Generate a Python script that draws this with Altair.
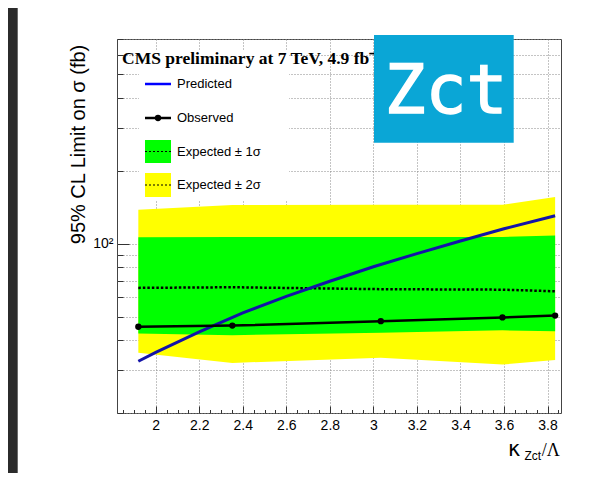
import altair as alt
import pandas as pd

# ---- data ----
MASS_X = [1.920, 2.352, 3.034, 3.593, 3.835]
OBSERVED = [45.4, 45.9, 47.9, 49.6, 50.5]
EXPECTED = [65.7, 66.1, 64.9, 64.6, 63.6]
SIG1_LO = [42.6, 41.9, 42.9, 43.9, 43.5]
SIG1_HI = [106.2, 106.6, 106.6, 106.6, 108.2]
SIG2_LO = [35.5, 32.2, 33.8, 31.7, 33.1]
SIG2_HI = [138.0, 144.5, 144.8, 144.8, 155.8]

PRED_X = [1.92, 2.0, 2.2, 2.4, 2.6, 2.8, 3.0, 3.2, 3.4, 3.6, 3.835]
PREDICTED = [32.7, 35.6, 43.2, 51.8, 60.6, 70.0, 80.3, 91.0, 102.6, 115.2, 130.5]

X_DOMAIN = [1.822, 3.862]
Y_DOMAIN = [20, 700]
X_MAJOR = [2.0, 2.2, 2.4, 2.6, 2.8, 3.0, 3.2, 3.4, 3.6, 3.8]
X_MINOR = [round(1.85 + 0.05 * i, 2) for i in range(41) if round((1.85 + 0.05 * i) * 100) % 20 != 0]
Y_MAJOR = [100]
Y_MINOR = [20, 30, 40, 50, 60, 70, 80, 90, 200, 300, 400, 500, 600, 700]
Y_GRID = [20, 30, 40, 50, 60, 70, 80, 90, 100, 200, 300, 400, 500, 600, 700]

Y_TITLE = "95% CL Limit on σ (fb)"
HEADER = "CMS preliminary at 7 TeV, 4.9 fb⁻¹"
LEGEND_LABELS = ["Predicted", "Observed", "Expected ± 1σ", "Expected ± 2σ"]
TAG = "Zct"

W, H = 444, 374
SANS = "Liberation Sans"
SERIF = "Liberation Serif"

band = pd.DataFrame({"k": MASS_X, "obs": OBSERVED, "exp": EXPECTED,
                     "s1lo": SIG1_LO, "s1hi": SIG1_HI,
                     "s2lo": SIG2_LO, "s2hi": SIG2_HI})
pred = pd.DataFrame({"k": PRED_X, "p": PREDICTED})

xs = alt.Scale(domain=X_DOMAIN, nice=False, zero=False)
ys = alt.Scale(type="log", domain=Y_DOMAIN, nice=False)

# axes
x_grid = alt.Axis(orient="bottom", values=X_MAJOR, grid=True, gridDash=[1, 2], gridColor="#888",
                  gridWidth=1, gridOpacity=1, ticks=False, labels=False, domain=False, title=None)
y_grid = alt.Axis(orient="left", values=Y_GRID, grid=True, gridDash=[1, 2], gridColor="#888",
                  gridWidth=1, gridOpacity=1, ticks=False, labels=False, domain=False, title=None)
x_lab = alt.Axis(orient="bottom", values=X_MAJOR, grid=False, ticks=False, domain=False,
                 labelExpr="format(datum.value, '.1~f')", labelFont=SANS, labelFontSize=14,
                 labelColor="#000", labelPadding=5, labelOverlap=False, labelFlush=False, title=None)
y_lab = alt.Axis(orient="left", values=Y_MAJOR, grid=False, ticks=False, domain=False,
                 labelExpr="'10²'", labelFont=SANS, labelFontSize=14, labelColor="#000",
                 labelPadding=4, title=Y_TITLE, titleFont=SANS, titleFontSize=20,
                 titleFontWeight="normal", titleColor="#000", titleAngle=270,
                 titleX=-33, titleY=105, titleAlign="center", titleBaseline="alphabetic")
x_maj = alt.Axis(orient="bottom", values=X_MAJOR, grid=False, labels=False, domain=False,
                 ticks=True, tickSize=7, offset=-7, tickColor="#333", tickWidth=1, title=None)
y_maj = alt.Axis(orient="left", values=Y_MAJOR, grid=False, labels=False, domain=False,
                 ticks=True, tickSize=12, offset=-12, tickColor="#333", tickWidth=1, title=None)
x_min = alt.Axis(orient="bottom", values=X_MINOR, grid=False, labels=False, domain=False,
                 ticks=True, tickSize=3.5, offset=-3.5, tickColor="#333", tickWidth=1, title=None)
y_min = alt.Axis(orient="left", values=Y_MINOR, grid=False, labels=False, domain=False,
                 ticks=True, tickSize=6, offset=-6, tickColor="#333", tickWidth=1, title=None)

base = alt.Chart(band)

yellow = base.mark_area(color="#ffff00", opacity=1).encode(
    x=alt.X("k:Q", scale=xs, axis=x_grid),
    y=alt.Y("s2lo:Q", scale=ys, axis=y_grid),
    y2="s2hi:Q")
green = base.mark_area(color="#00ff00", opacity=1).encode(
    x=alt.X("k:Q", scale=xs, axis=x_lab),
    y=alt.Y("s1lo:Q", scale=ys, axis=y_lab),
    y2="s1hi:Q")
expected = base.mark_line(color="#000", strokeDash=[2.5, 2], strokeWidth=2.5).encode(
    x=alt.X("k:Q", scale=xs, axis=x_maj),
    y=alt.Y("exp:Q", scale=ys, axis=y_maj))
predicted = alt.Chart(pred).mark_line(color="#1414a8", strokeWidth=3).encode(
    x=alt.X("k:Q", scale=xs, axis=x_min),
    y=alt.Y("p:Q", scale=ys, axis=y_min))
observed = base.mark_line(color="#000", strokeWidth=2.5).encode(
    x=alt.X("k:Q", scale=xs, axis=None),
    y=alt.Y("obs:Q", scale=ys, axis=None))
obs_pts = base.mark_point(filled=True, color="#000", size=40, opacity=1).encode(
    x=alt.X("k:Q", scale=xs, axis=None),
    y=alt.Y("obs:Q", scale=ys, axis=None))


def deco():
    return alt.Chart(pd.DataFrame({"d": [0]}))


def label(txt, x, y, **kw):
    return deco().mark_text(**kw).encode(x=alt.value(x), y=alt.value(y), text=alt.value(txt))


legend_box = deco().mark_rect(fill="white").encode(
    x=alt.value(22), x2=alt.value(172), y=alt.value(11), y2=alt.value(161))
leg_pred = deco().mark_rule(color="#0000ff", strokeWidth=2.5).encode(
    x=alt.value(28), x2=alt.value(54), y=alt.value(45))
leg_obs = deco().mark_rule(color="#000", strokeWidth=2.5).encode(
    x=alt.value(28), x2=alt.value(54), y=alt.value(79))
leg_obs_pt = deco().mark_point(filled=True, color="#000", size=40, opacity=1).encode(
    x=alt.value(41), y=alt.value(79))
leg_g = deco().mark_rect(fill="#00ff00").encode(
    x=alt.value(28), x2=alt.value(54), y=alt.value(101), y2=alt.value(124))
leg_g_d = deco().mark_rule(color="#000", strokeWidth=1, strokeDash=[2, 2]).encode(
    x=alt.value(28), x2=alt.value(54), y=alt.value(112.5))
leg_y = deco().mark_rect(fill="#ffff00").encode(
    x=alt.value(28), x2=alt.value(54), y=alt.value(134), y2=alt.value(158))
leg_y_d = deco().mark_rule(color="#000", strokeWidth=1, strokeDash=[2, 2]).encode(
    x=alt.value(28), x2=alt.value(54), y=alt.value(146))

tkw = dict(font=SANS, fontSize=13, color="#000", align="left", baseline="middle")
leg_texts = [label(LEGEND_LABELS[0], 60, 45, **tkw),
             label(LEGEND_LABELS[1], 60, 79, **tkw),
             label(LEGEND_LABELS[2], 60, 112.5, **tkw),
             label(LEGEND_LABELS[3], 60, 146, **tkw)]

header = label(HEADER, 5, 25, font=SERIF, fontSize=17.5, fontWeight="bold", color="#000",
               align="left", baseline="alphabetic")

tag_box = deco().mark_rect(fill="#0aa6d6").encode(
    x=alt.value(257), x2=alt.value(396.7), y=alt.value(-4), y2=alt.value(103.7))
tag_text = label(TAG, 329, 74, font="DejaVu Sans Mono", fontSize=68, color="white",
                 stroke="white", strokeWidth=1.5, align="center", baseline="alphabetic")

xt1 = label("κ", 391, 417, font="DejaVu Sans", fontSize=21, color="#000", align="left", baseline="alphabetic")
xt2 = label("Zct", 407.5, 421, font=SANS, fontSize=12, color="#000", align="left", baseline="alphabetic")
xt3 = label("/Λ", 424.7, 417, font=SERIF, fontSize=18, color="#000", align="left", baseline="alphabetic")

strip = deco().mark_rect(fill="#2b2b2b").encode(
    x=alt.value(-109), x2=alt.value(-99.3), y=alt.value(-31), y2=alt.value(460))

chart = alt.layer(
    yellow, green, expected, predicted, observed, obs_pts,
    legend_box, leg_pred, leg_obs, leg_obs_pt, leg_g, leg_g_d, leg_y, leg_y_d,
    *leg_texts, header, tag_box, tag_text, xt1, xt2, xt3, strip
).resolve_axis(x="independent", y="independent").properties(
    width=W, height=H,
    autosize=alt.AutoSizeParams(type="none"),
    padding={"left": 109, "top": 31, "right": 27, "bottom": 60},
    background="white",
).configure_view(stroke="#444", strokeWidth=1)

chart.save("out.html", embed_options={"renderer": "svg", "actions": False})
